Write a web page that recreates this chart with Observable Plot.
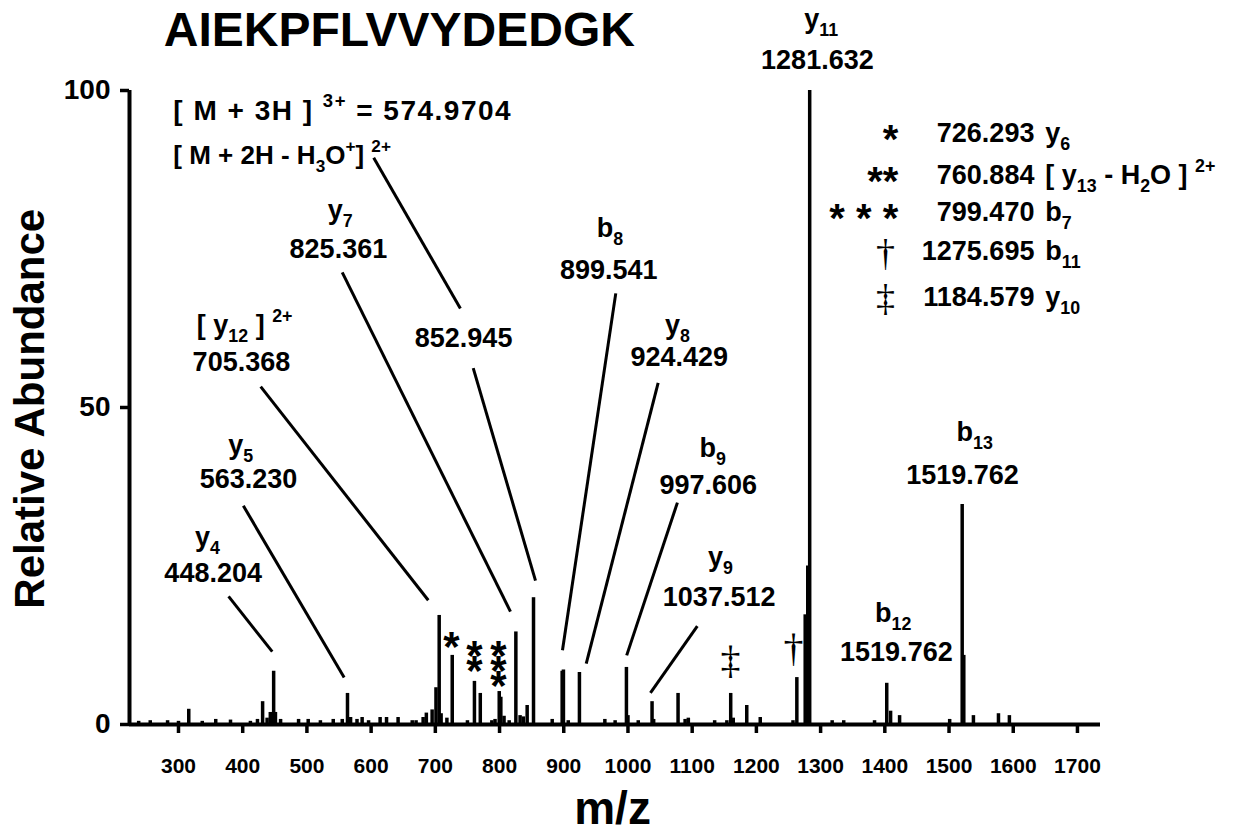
<!DOCTYPE html>
<html><head><meta charset="utf-8">
<script src="https://cdn.jsdelivr.net/npm/d3@7"></script>
<script src="https://cdn.jsdelivr.net/npm/@observablehq/plot@0.6"></script>
<style>body{margin:0;background:#fff} svg{display:block} text{white-space:pre} .precursor1 text{letter-spacing:1.5px}</style>
</head><body><div id="chart"></div>
<script>
// ---- spectrum peaks (m/z, relative abundance) ----
const peakMz = [238, 256, 283, 300, 316, 337, 358, 381, 412, 423, 431, 438, 443, 448.2, 451, 459, 487, 502, 521, 541, 555, 563.2, 568, 578, 586, 596,
  614, 624, 642, 664, 670, 681, 686, 695, 701, 706, 709, 718, 726.3, 750, 760.9, 770, 788, 793, 799.5, 802, 807, 815, 825.4, 832, 837, 843, 852.9, 882, 897.5, 899.5, 907, 924.4, 964, 980, 997.6,
  1000, 1016, 1037.5, 1040, 1078, 1089, 1094, 1135, 1154, 1160, 1164, 1185, 1206, 1257, 1263, 1276, 1280, 1283, 1318, 1336, 1384,
  1403, 1409, 1423, 1501, 1520.5, 1523, 1538, 1577, 1594];
const peakAbundance = [0.5, 0.6, 0.6, 0.5, 2.4, 0.5, 0.8, 0.7, 0.5, 0.8, 3.6, 1.0, 1.9, 8.4, 1.9, 0.8, 0.8, 0.8, 0.6, 0.8, 0.8, 4.9, 1.1, 0.8, 1.1, 0.6,
  1.1, 1.1, 1.1, 0.6, 0.6, 1.1, 1.8, 2.3, 5.8, 17.2, 1.7, 1.0, 10.9, 0.6, 6.8, 4.9, 0.6, 0.8, 5.2, 4.3, 1.3, 0.6, 14.6, 1.4, 1.2, 3.0, 20.0, 0.8, 8.4, 8.6, 0.6, 8.2, 0.8, 0.6, 9.0,
  1.4, 0.6, 3.6, 0.8, 4.9, 0.8, 1.0, 0.6, 0.6, 4.9, 1.0, 3.0, 1.1, 0.6, 7.4, 17.3, 25.0, 100, 0.6, 0.6, 0.6,
  6.5, 2.1, 1.4, 0.8, 34.7, 10.9, 1.4, 1.7, 1.4];

const xTicks = [300, 400, 500, 600, 700, 800, 900, 1000, 1100, 1200, 1300, 1400, 1500, 1600, 1700];
const yTicks = [0, 50, 100];

// ---- annotated fragment ions ----
const ionName = ["y_{4}", "y_{5}", "[ y_{12} ] ^{2+}", "y_{7}", "b_{8}", "y_{8}", "b_{9}", "y_{9}", "y_{11}", "b_{12}", "b_{13}"];
const ionValue = ["448.204", "563.230", "705.368", "825.361", "899.541", "924.429", "997.606", "1037.512", "1281.632", "1519.762", "1519.762"];
// label placement in data units (m/z, abundance)
const ionNameMz = [345, 397, 403, 552, 972, 1077, 1132, 1144, 1301, 1413, 1540];
const ionNameAb = [29.5, 44.0, 62.9, 81.1, 78.2, 62.9, 43.5, 26.3, 111.2, 17.5, 46.1];
const ionValueMz = [354, 409, 398, 549, 970, 1080, 1125, 1142, 1295, 1418, 1521];
const ionValueAb = [23.8, 38.6, 57.1, 74.9, 71.6, 57.9, 37.7, 20.0, 104.7, 11.4, 39.3];

// leader lines (data units)
const leadX1 = [378, 401, 428, 555, 604, 759, 981, 1047, 1077, 1108];
const leadY1 = [20.2, 34.5, 53.3, 71.3, 89.4, 56.2, 68.0, 53.9, 35.0, 15.5];
const leadX2 = [446, 558, 689, 817, 739, 856, 898, 935, 998, 1035];
const leadY2 = [11.5, 7.4, 19.6, 17.8, 65.6, 22.7, 11.7, 9.6, 10.9, 5.0];

// peak markers
const starSym = ["*", "*\n*", "*\n*\n*"];
const starMz = [725, 761, 798.4];
const starAb = [10.8, 8.2, 7.0];
const daggerSym = ["‡", "†"];
const daggerMz = [1159.7, 1257.8];
const daggerAb = [10.2, 12.1];

// key (top right)
const keySym = ["*", "**", "* * *", "†", "‡"];
const keyValue = ["726.293", "760.884", "799.470", "1275.695", "1184.579"];
const keyIon = ["y_{6}", "[ y_{13} - H_{2}O ] ^{2+}", "b_{7}", "b_{11}", "y_{10}"];
const keyAb = [93.2, 86.6, 80.8, 74.6, 67.4];

const title = "AIEKPFLVVYDEDGK";
const precursor = ["[ M + 3H ] ^{3+} = 574.9704", "[ M + 2H - H_{3}O^{+}] ^{2+}"];
const precursorAb = [96.8, 89.7];

const peaks = peakMz.map((mz, i) => ({mz, ab: peakAbundance[i]}));
const ions = ionName.map((n, i) => ({n, v: ionValue[i], nx: ionNameMz[i], ny: ionNameAb[i], vx: ionValueMz[i], vy: ionValueAb[i]}));
const leads = leadX1.map((x1, i) => ({x1, y1: leadY1[i], x2: leadX2[i], y2: leadY2[i]}));
const stars = starSym.map((s, i) => ({s, x: starMz[i], y: starAb[i]}));
const daggers = daggerSym.map((s, i) => ({s, x: daggerMz[i], y: daggerAb[i]}));
const key = keySym.map((s, i) => ({s, v: keyValue[i], ion: keyIon[i], y: keyAb[i]}));
const keyStars = key.slice(0, 3);
const keyDaggers = key.slice(3);

const xDomain = [223.7, 1735.9];
const FONT = "'Liberation Sans', Arial, Helvetica, sans-serif";
const SERIF = "'Liberation Serif', 'Times New Roman', serif";
const fmt = d => `${d}`;

const chart = Plot.plot({
  width: 1239,
  height: 836,
  marginLeft: 129,
  marginRight: 139,
  marginTop: 90,
  marginBottom: 112,
  style: {fontFamily: FONT, color: "black", background: "white"},
  x: {domain: xDomain},
  y: {domain: [0, 100]},
  marks: [
    Plot.ruleX(peaks, {x: "mz", y1: 0, y2: "ab", stroke: "black", strokeWidth: 3.5}),
    Plot.ruleY([0], {stroke: "black", strokeWidth: 4}),
    Plot.ruleX([xDomain[0]], {y1: 0, y2: 100, stroke: "black", strokeWidth: 4}),
    Plot.axisX({ticks: xTicks, tickFormat: fmt, tickSize: 9, tickPadding: 25, strokeWidth: 3.5, fontSize: 21, fontWeight: "bold", label: null}),
    Plot.axisY({ticks: yTicks, tickFormat: fmt, tickSize: 9, tickPadding: 10, strokeWidth: 3.5, fontSize: 28, fontWeight: "bold", label: null}),
    Plot.link(leads, {x1: "x1", y1: "y1", x2: "x2", y2: "y2", stroke: "black", strokeWidth: 3}),
    Plot.text(ions, {x: "nx", y: "ny", text: "n", fontSize: 27, fontWeight: "bold", lineAnchor: "middle"}),
    Plot.text(ions, {x: "vx", y: "vy", text: "v", fontSize: 27, fontWeight: "bold", lineAnchor: "middle"}),
    Plot.text(["852.945"], {x: 744, y: 60.9, text: d => d, fontSize: 27, fontWeight: "bold", lineAnchor: "middle"}),
    Plot.text(stars, {x: "x", y: "y", text: "s", fontSize: 42, lineHeight: 0.36, fontWeight: "bold", lineAnchor: "middle"}),
    Plot.text(daggers, {x: "x", y: "y", text: "s", fontSize: 40, fontFamily: SERIF, lineAnchor: "middle"}),
    Plot.text(keyStars, {x: 1421, y: d => d.y - 1.1, text: "s", textAnchor: "end", fontSize: 40, fontWeight: "bold", lineAnchor: "middle"}),
    Plot.text(keyDaggers, {x: 1416, y: d => d.y - 0.3, text: "s", textAnchor: "end", fontSize: 38, fontFamily: SERIF, lineAnchor: "middle"}),
    Plot.text(key, {x: 1633, y: "y", text: "v", textAnchor: "end", fontSize: 27, fontWeight: "bold", lineAnchor: "middle"}),
    Plot.text(key, {x: 1650, y: "y", text: "ion", textAnchor: "start", fontSize: 27, fontWeight: "bold", lineAnchor: "middle"}),
    Plot.text(precursor.slice(0, 1), {x: 292, y: precursorAb[0], text: d => d, textAnchor: "start", fontSize: 28, fontWeight: "bold", lineAnchor: "middle", className: "precursor1"}),
    Plot.text(precursor.slice(1), {x: 292, y: precursorAb[1], text: d => d, textAnchor: "start", fontSize: 26, fontWeight: "bold", lineAnchor: "middle"}),
    Plot.text([title], {x: 644, y: 109.5, text: d => d, fontSize: 48, fontWeight: "bold", lineAnchor: "middle"}),
    Plot.text(["m/z"], {x: 976, y: -13.4, text: d => d, fontSize: 46, fontWeight: "bold", lineAnchor: "middle"}),
    Plot.text(["Relative Abundance"], {x: 69.5, y: 49.8, text: d => d, rotate: -90, fontSize: 42, fontWeight: "bold", lineAnchor: "middle"})
  ]
});
document.getElementById("chart").appendChild(chart);

// turn _{..} and ^{..} markup into real subscript / superscript tspans
d3.select(chart).selectAll("text").each(function() {
  const t = this.textContent;
  if (!/[_^]\{/.test(t)) return;
  const fs = parseFloat(getComputedStyle(this).fontSize);
  const parts = t.split(/([_^]\{[^}]*\})/).filter(s => s.length);
  this.textContent = "";
  let cur = 0;
  for (const p of parts) {
    let txt = p, size = null, off = 0;
    if (p.startsWith("_{")) { txt = p.slice(2, -1); size = 0.66 * fs; off = 0.3 * fs; }
    else if (p.startsWith("^{")) { txt = p.slice(2, -1); size = 0.66 * fs; off = -0.45 * fs; }
    const ts = d3.select(this).append("tspan").text(txt);
    if (size) ts.attr("font-size", size);
    if (off !== cur) ts.attr("dy", off - cur);
    cur = off;
  }
});
</script>
</body></html>
